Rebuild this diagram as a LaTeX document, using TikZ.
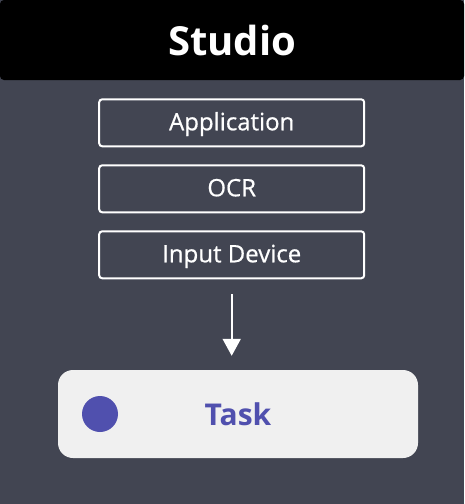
\documentclass[tikz,border=0pt]{standalone}
\usepackage{fontspec}
\setmainfont{Open Sans}
\newfontfamily\semifont{Open Sans}[FakeBold=0.6]
\usetikzlibrary{arrows.meta,positioning}
\definecolor{bgcol}{RGB}{66,69,82}
\definecolor{taskcol}{RGB}{80,80,174}
\definecolor{cardcol}{RGB}{240,240,240}

\begin{document}
\begin{tikzpicture}[x=1pt,y=-1pt,
		layer/.style={draw=white,line width=2pt,rounded corners=3pt,minimum width=265pt,minimum height=47pt,
			inner sep=0pt,text=white,text height=15pt,text depth=0pt,font=\fontsize{24}{28}\semifont},
		card/.style={fill=cardcol,rounded corners=15pt,minimum width=360pt,minimum height=88pt,inner sep=0pt,
			text=taskcol,font=\fontsize{30}{36}\selectfont\bfseries},
		flow/.style={draw=white,line width=2pt,-{Triangle[width=18pt,length=17pt]}}]
		\fill[bgcol] (0,0) rectangle (464,504);
		\node[fill=black,rounded corners=4pt,minimum width=464pt,minimum height=80pt,inner sep=0pt,
			text=white,font=\fontsize{40}{46}\selectfont\bfseries] (S0) at (232,40) {Studio};
		\node[layer] (B1) at (231.7,122.8) {Application};
		\node[layer,below=17pt of B1] (B2) {OCR};
		\node[layer,below=17pt of B2] (B3) {Input Device};
		\node[card] (T1) at (238,414) {Task};
		\node[circle,fill=taskcol,minimum size=36pt,inner sep=0pt] (D1) at (100,414) {};
		\draw[flow,shorten <=15pt,shorten >=14pt] (B3.south) -- (B3.south |- T1.north);
	\end{tikzpicture}
\end{document}
